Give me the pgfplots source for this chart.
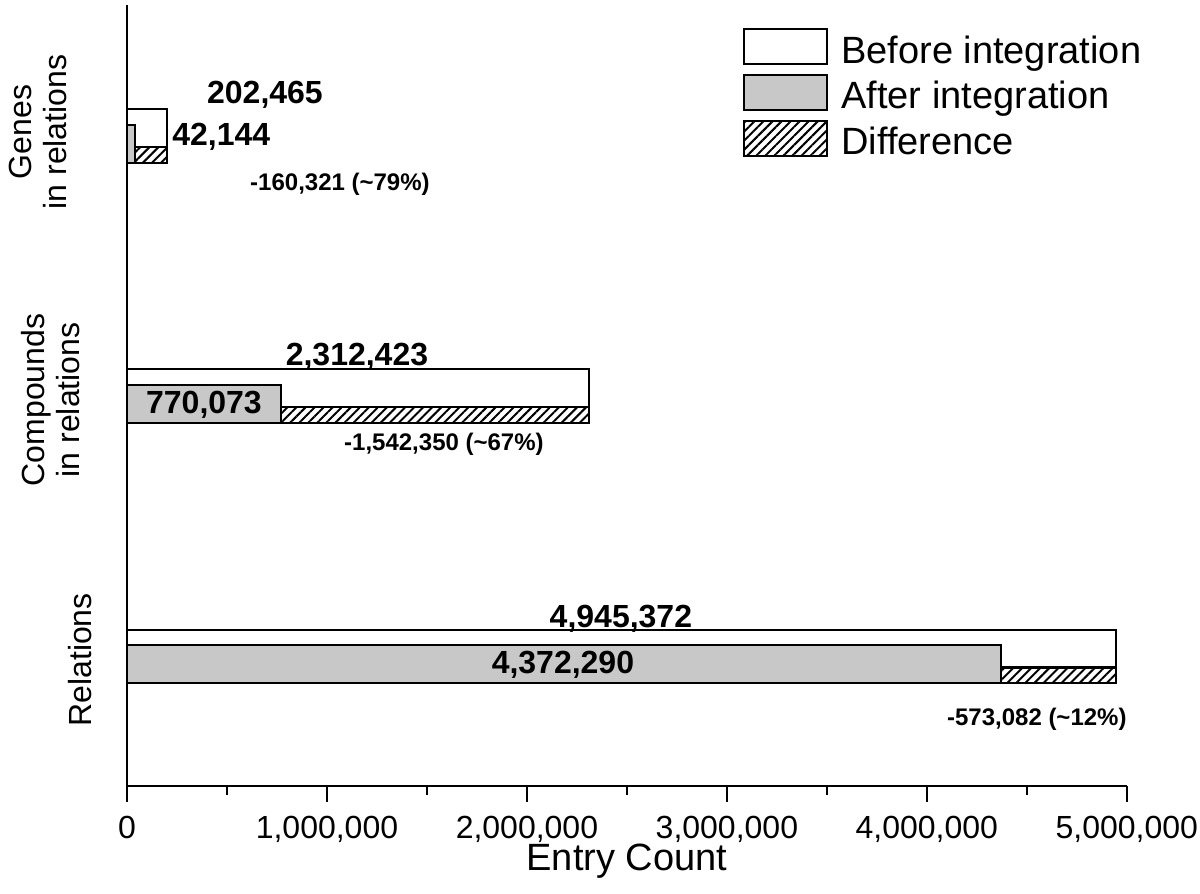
\documentclass[border=0pt]{standalone}
\usepackage{fontspec}
\setmainfont{Liberation Sans}
\usepackage{pgfplots}
\pgfplotsset{compat=1.18}
\usetikzlibrary{patterns.meta}
\definecolor{barGray}{RGB}{200,200,200}

\begin{document}
\begin{tikzpicture}
\begin{axis}[
  name=ax,
  scale only axis,
  clip=false,
  width=500pt, height=390.5pt,
  xmin=0, xmax=5000000, ymin=0, ymax=781,
  axis x line=bottom, axis y line=left,
  axis line style={line width=1.3pt, -},
  xtick={0,1000000,2000000,3000000,4000000,5000000},
  minor x tick num=1,
  tick align=outside,
  major tick length=8pt, minor tick length=4.5pt,
  xtick style={line width=1.3pt, black},
  minor x tick style={line width=1.3pt, black},
  scaled x ticks=false,
  /pgf/number format/assume math mode=true,
  xticklabel style={/pgf/number format/fixed, /pgf/number format/1000 sep={,},
    font=\fontsize{16}{19}\selectfont, anchor=base, inner sep=1pt, yshift=-18.5pt},
  ytick=\empty,
  xlabel={Entry Count},
  xlabel style={at={(axis description cs:0.5,0)}, anchor=base, yshift=-42.5pt,
    font=\fontsize{19}{22}\selectfont},
  legend image code/.code={\draw[#1, line width=1pt] (0pt,-6.75pt) rectangle (41.5pt,10.75pt);},
  legend style={at={(axis cs:3080000,758)}, anchor=north west, draw=none, fill=none,
    inner sep=0pt, row sep=1.9pt, column sep=4.5pt,
    font=\fontsize{19}{22}\selectfont},
  legend cell align=left,
]
% Before integration (white)
\addplot[xbar, bar shift=0pt, bar width=38, fill=white, draw=black, line width=1pt, forget plot]
  coordinates {(202465,658) (2312423,397.5) (4945372,137)};
% Difference (hatched), lower strip up to the before value
\addplot[xbar, bar shift=0pt, bar width=16, draw=black, line width=1pt,
  pattern={Lines[angle=45, distance=3.2pt, line width=1pt]}, forget plot]
  coordinates {(202465,631) (2312423,370.5) (4945372,110.5)};
% After integration (gray)
\addplot[xbar, bar shift=0pt, bar width=38, fill=barGray, draw=black, line width=1pt, forget plot]
  coordinates {(42144,642) (770073,381.5) (4372290,121.5)};

\addlegendimage{fill=white, draw=black}
\addlegendentry{Before integration}
\addlegendimage{fill=barGray, draw=black}
\addlegendentry{After integration}
\addlegendimage{draw=black, pattern={Lines[angle=45, distance=3.2pt, line width=1pt]}}
\addlegendentry{Difference}

\begin{scope}[font=\bfseries\fontsize{16}{19}\selectfont]
\node[anchor=base] at (axis cs:690000,682) {202,465};
\node[anchor=base west, inner sep=0pt] at (axis cs:225000,640) {42,144};
\node[anchor=base] at (axis cs:1150000,420) {2,312,423};
\node[anchor=base] at (axis cs:385000,372) {770,073};
\node[anchor=base] at (axis cs:2470000,158) {4,945,372};
\node[anchor=base] at (axis cs:2180000,112) {4,372,290};
\end{scope}
\begin{scope}[font=\bfseries\fontsize{12}{14}\selectfont]
\node[anchor=base] at (axis cs:1065000,595) {-160,321 (\textasciitilde 79\%)};
\node[anchor=base] at (axis cs:1585000,335) {-1,542,350 (\textasciitilde 67\%)};
\node[anchor=base] at (axis cs:4550000,60) {-573,082 (\textasciitilde 12\%)};
\end{scope}
\end{axis}
\begin{scope}[font=\fontsize{16}{17.5}\selectfont]
\node[rotate=90, align=center, inner sep=0pt] at ([xshift=-44.5pt, yshift=327pt]ax.south west) {Genes\\in relations};
\node[rotate=90, align=center, inner sep=0pt] at ([xshift=-38pt, yshift=193pt]ax.south west) {Compounds\\in relations};
\node[rotate=90, align=center, inner sep=0pt] at ([xshift=-23.5pt, yshift=63pt]ax.south west) {Relations};
\end{scope}
\path (ax.south west) ++(-63.5pt,-54pt) rectangle ++(600pt,447pt);
\end{tikzpicture}
\end{document}
